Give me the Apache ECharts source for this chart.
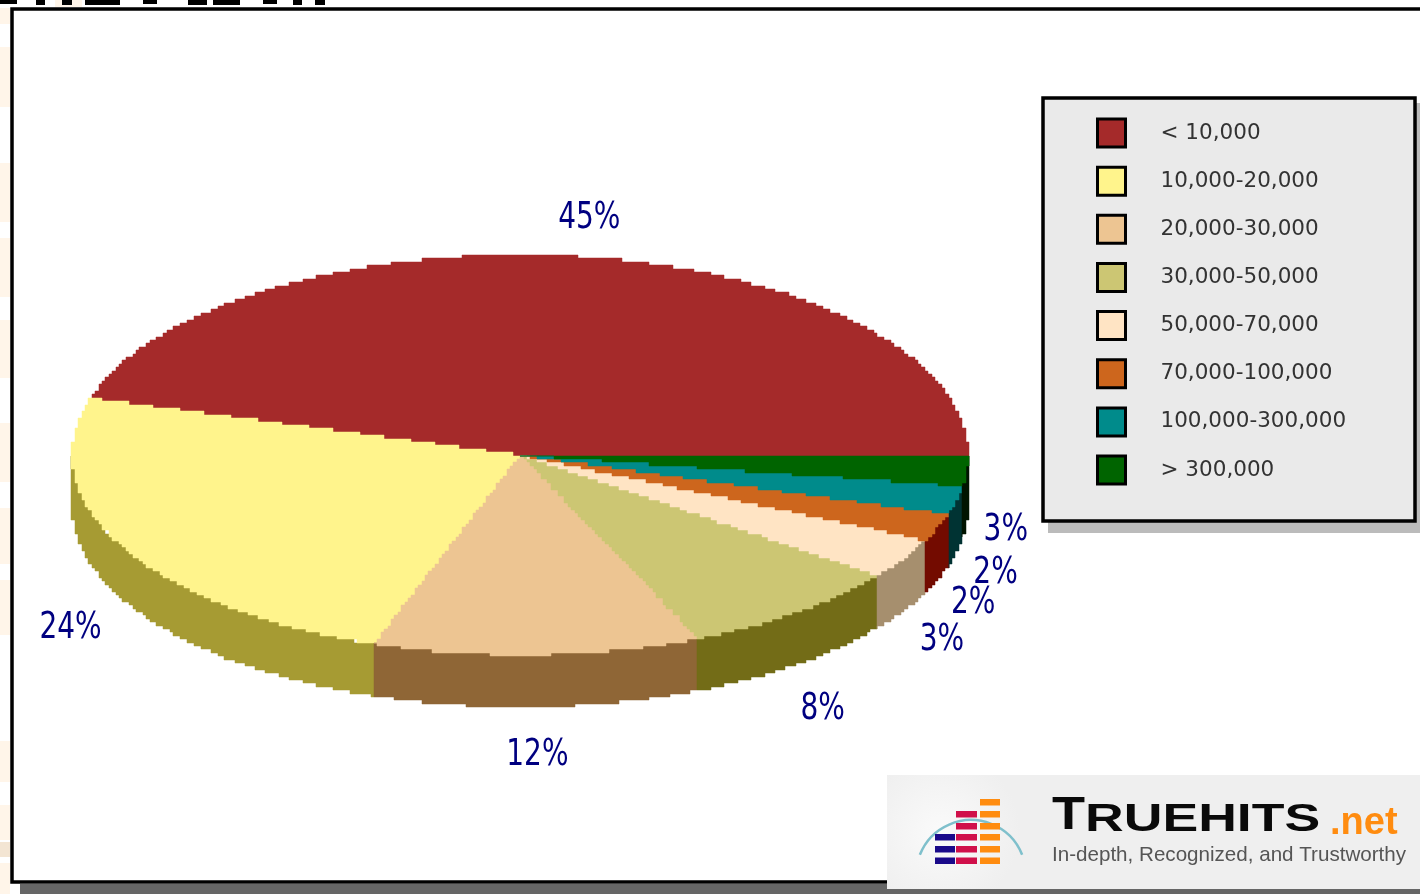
<!DOCTYPE html>
<html>
<head>
<meta charset="utf-8">
<style>html,body{margin:0;padding:0;background:#fff}#c{width:1420px;height:894px}</style>
<script src="https://cdn.jsdelivr.net/npm/echarts@6/dist/echarts.min.js"></script>
</head>
<body>
<div id="c"></div>
<script>
const categories = ['< 10,000','10,000-20,000','20,000-30,000','30,000-50,000','50,000-70,000','70,000-100,000','100,000-300,000','> 300,000'];
const shares = [45.4, 24.3, 11.8, 8.2, 3.3, 2.2, 2.3, 2.5];
const topColors = ['#A52A2A','#FFF48C','#EDC592','#CCC673','#FFE4C4','#CD661D','#008B8B','#006400'];
const sideColors = ['#731D1D','#A69B33','#8F6636','#736C17','#A68F6E','#730B00','#003333','#001400'];
const labelNudge = [[-1,11],[-15,7],[-1,-1],[1,6],[4,4],[-2,6],[0,10],[-1,4]];

const CX = 520, CY = 455, RX = 448, RY = 200, DEPTH = 52, GRID = 3.4;
const rad = a => a * Math.PI / 180;
const onEllipse = (a, dy) => [CX + RX * Math.cos(rad(a)), CY + (dy || 0) - RY * Math.sin(rad(a))];
function arc(a0, a1, dy) {
  const pts = [];
  for (let a = a0; a < a1; a += 0.2) pts.push(onEllipse(a, dy));
  pts.push(onEllipse(a1, dy));
  return pts;
}
// The source is an enlarged low-resolution bitmap: edges are turned into pixel stairs.
function stairs(poly) {
  const snap = v => Math.round(Math.round(v / GRID) * GRID);
  const cells = [];
  for (let i = 0; i < poly.length; i++) {
    const p = poly[i], q = poly[(i + 1) % poly.length];
    const n = Math.max(1, Math.ceil(Math.hypot(q[0] - p[0], q[1] - p[1]) / 2));
    for (let k = 0; k < n; k++) {
      const c = [snap(p[0] + (q[0] - p[0]) * k / n), snap(p[1] + (q[1] - p[1]) * k / n)];
      const l = cells[cells.length - 1];
      if (!l || l[0] !== c[0] || l[1] !== c[1]) cells.push(c);
    }
  }
  const out = [];
  cells.forEach((c, i) => {
    const d = cells[(i + 1) % cells.length];
    out.push(c);
    if (c[0] !== d[0] && c[1] !== d[1]) {
      const first = c[0] < d[0] ? c : d, last = c[0] < d[0] ? d : c;
      out.push([last[0], first[1]]);
    }
  });
  return out;
}
function renderSlice(idx) {
  return function (params, api) {
    const start = api.value(1) * 3.6;
    const value = api.value(0);
    const end = start + value * 3.6;
    const mid = (start + end) / 2;
    const children = [];
    const s0 = Math.max(start, 180), s1 = Math.min(end, 360);
    if (s1 > s0) {
      const poly = arc(s0, s1).concat(arc(s0, s1, DEPTH).reverse());
      children.push({ type: 'polygon', shape: { points: stairs(poly) },
        style: { fill: sideColors[idx], stroke: sideColors[idx], lineWidth: 0.5 } });
    }
    children.push({ type: 'polygon', shape: { points: stairs([[CX, CY]].concat(arc(start, end))) },
      style: { fill: api.visual('color'), stroke: api.visual('color'), lineWidth: 0.5 } });
    const sinM = Math.sin(rad(mid));
    const lx = CX + 1.09 * RX * Math.cos(rad(mid)) + labelNudge[idx][0];
    const ly = CY - 1.25 * RY * sinM + (sinM < 0 ? DEPTH : 0) + labelNudge[idx][1];
    children.push({ type: 'text', z2: 10, x: lx, y: ly, scaleY: 1.32, style: {
      x: 0, y: 0, text: Math.round(value) + '%', fill: '#000080',
      font: '28px "DejaVu Sans"', align: 'center', verticalAlign: 'middle' } });
    return { type: 'group', children };
  };
}
let acc = 0;
const series = categories.map((name, i) => {
  const datum = [shares[i], acc];
  acc += shares[i];
  return { type: 'custom', name, coordinateSystem: 'none', z: 5 + (i === 0 ? 0 : 1),
    itemStyle: { color: topColors[i] }, data: [datum], renderItem: renderSlice(i),
    animation: false, silent: true };
});

const rect = (x, y, w, h, fill, z) => ({ type: 'rect', shape: { x, y, width: w, height: h }, style: { fill }, z: z || 0, silent: true });
const creamBands = [[8,24],[47,107],[163,222],[238,297],[320,378],[423,482],[508,564],[580,635],[741,782],[805,840],[863,894]];
const titleBits = [[0,17,4],[36,9,5],[62,10,5],[85,35,5],[143,14,4],[188,19,5],[213,27,5],[263,14,4],[293,9,5],[315,10,5]];
const logoNavy = [834,846,857.5], logoCrimson = [811,823,834,846,857.5], logoOrange = [799,811,823,834,846,857.5];
const graphic = [];
creamBands.forEach(b => graphic.push(rect(0, b[0], 10, b[1] - b[0], '#FFF5E9')));
graphic.push(rect(0, 842, 10, 15, '#F3E5D3'));
graphic.push(rect(55, 0, 27, 7, '#FFF5E9'));
titleBits.forEach(b => graphic.push(rect(b[0], 0, b[1], b[2], '#000', 1)));
graphic.push(rect(20, 884, 1400, 10, '#666666'));
graphic.push({ type: 'rect', shape: { x: 12, y: 9, width: 1420, height: 873 }, style: { fill: '#fff', stroke: '#000', lineWidth: 3.5 }, z: 1, silent: true });
graphic.push(rect(1048, 103, 372, 430, '#BBBBBB', 2));
graphic.push({ type: 'rect', shape: { x: 1043, y: 98, width: 372, height: 423 }, style: { fill: '#EAEAEA', stroke: '#000', lineWidth: 3.5 }, z: 3, silent: true });
graphic.push({ type: 'rect', shape: { x: 887, y: 775, width: 533, height: 114 },
  style: { fill: { type: 'radial', x: 0.1, y: 0.5, r: 0.7, colorStops: [{ offset: 0, color: '#FAFAFA' }, { offset: 1, color: '#EFEFEF' }] } }, z: 20, silent: true });
graphic.push({ type: 'arc', shape: { cx: 971, cy: 875, r: 55, startAngle: Math.PI * 1.12, endAngle: Math.PI * 1.88 },
  style: { stroke: '#7FC0CC', fill: null, lineWidth: 2.5 }, z: 21, silent: true });
logoNavy.forEach(y => graphic.push(rect(935, y, 20, 6.5, '#1A0A8A', 22)));
logoCrimson.forEach(y => graphic.push(rect(956, y, 21, 6.5, '#D0104A', 22)));
logoOrange.forEach(y => graphic.push(rect(980, y, 20, 6.5, '#FF8C10', 22)));
graphic.push({ type: 'text', z: 22, silent: true, x: 1052, y: 840, scaleX: 1.15, style: { x: 0, y: 0, text: 'T', fill: '#0a0a0a', font: 'bold 47px "Liberation Sans"', verticalAlign: 'bottom' } });
graphic.push({ type: 'text', z: 22, silent: true, x: 1085, y: 840, scaleX: 1.41, style: { x: 0, y: 0, text: 'RUEHITS', fill: '#0a0a0a', font: 'bold 38px "Liberation Sans"', verticalAlign: 'bottom' } });
graphic.push({ type: 'text', z: 22, silent: true, style: { x: 1330, y: 843, text: '.net', fill: '#FF8C10', font: 'bold 38px "Liberation Sans"', verticalAlign: 'bottom' } });
graphic.push({ type: 'text', z: 22, silent: true, style: { x: 1052, y: 855, text: 'In-depth, Recognized, and Trustworthy', fill: '#555555', font: '20.6px "Liberation Sans"', verticalAlign: 'middle' } });

const chart = echarts.init(document.getElementById('c'), null, { renderer: 'canvas', width: 1420, height: 894 });
chart.setOption({
  animation: false,
  backgroundColor: '#ffffff',
  graphic: { elements: graphic },
  legend: {
    left: 1096, top: 117.5, orient: 'vertical', itemWidth: 28, itemHeight: 28, itemGap: 17.15, padding: 0, zlevel: 0, z: 10,
    selectedMode: false, icon: 'rect', data: categories,
    itemStyle: { borderColor: '#000', borderWidth: 3 },
    textStyle: { color: '#333333', fontFamily: 'DejaVu Sans', fontSize: 21.5, padding: [3, 0, 0, 30] }
  },
  series
});
</script>
</body>
</html>
